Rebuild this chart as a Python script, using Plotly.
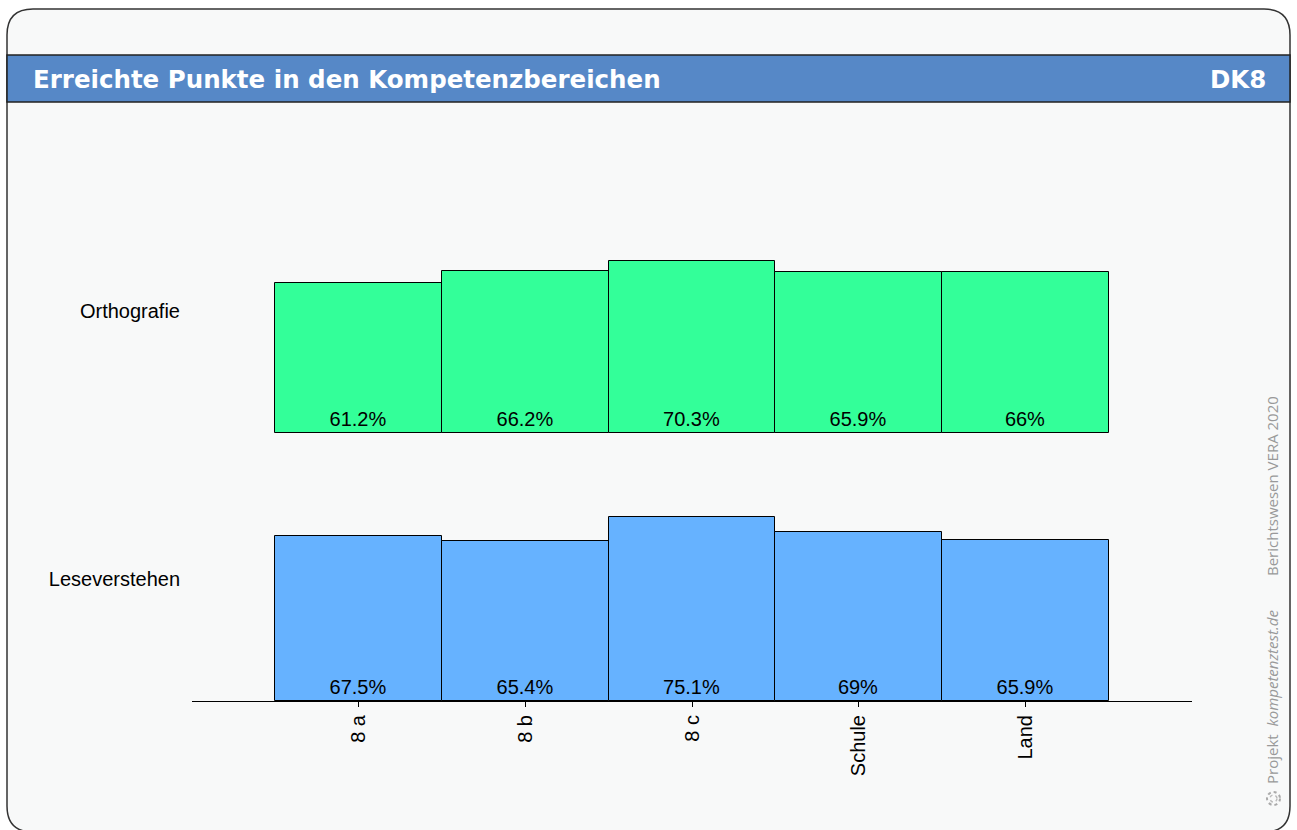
import plotly.graph_objects as go

# Data
klassen = ['8 a', '8 b', '8 c', 'Schule', 'Land']
bereiche = ['Leseverstehen', 'Orthografie']
leseverstehen = [67.5, 65.4, 75.1, 69, 65.9]
orthografie = [61.2, 66.2, 70.3, 65.9, 66]

W, H = 1297, 830
# plot area in pixels
L, R, T, B = 192, 1192, 120, 701
PX_PER_PCT = 2.447
ROW_GAP = 268 / PX_PER_PCT  # vertical distance between the two rows, in % units
Y_MAX = (B - T) / PX_PER_PCT


def px(x):
    return (x - L) / (R - L)


def py(y):
    return (B - y) / (B - T)


def fmt(v):
    return f"{v:g}%"


fig = go.Figure()

rows = [(leseverstehen, '#66b2ff', 0), (orthografie, '#33ff99', ROW_GAP)]
for vals, col, base in rows:
    fig.add_trace(go.Bar(
        x=klassen,
        y=vals,
        base=base,
        width=1,
        marker=dict(color=col, line=dict(color='black', width=1)),
        text=[fmt(v) for v in vals],
        textposition='inside',
        insidetextanchor='start',
        textangle=0,
        textfont=dict(family='Liberation Sans, Arial', size=20, color='black'),
        showlegend=False,
        hoverinfo='skip',
    ))

# card with rounded corners
r = 26
x0, x1, y0, y1 = 7, 1290, 9, 832
rx = r / (R - L)
ry = r / (B - T)
card = (f"M {px(x0)},{py(y0) - ry} Q {px(x0)},{py(y0)} {px(x0) + rx},{py(y0)} "
        f"L {px(x1) - rx},{py(y0)} Q {px(x1)},{py(y0)} {px(x1)},{py(y0) - ry} "
        f"L {px(x1)},{py(y1) + ry} Q {px(x1)},{py(y1)} {px(x1) - rx},{py(y1)} "
        f"L {px(x0) + rx},{py(y1)} Q {px(x0)},{py(y1)} {px(x0)},{py(y1) + ry} Z")

shapes = [
    dict(type='path', path=card, xref='paper', yref='paper',
         fillcolor='#f8f9f9', line=dict(color='#333333', width=1.5), layer='below'),
    dict(type='rect', xref='paper', yref='paper',
         x0=px(x0), x1=px(x1), y0=py(102), y1=py(55),
         fillcolor='#5688c7', line=dict(color='#222222', width=1.5), layer='below'),
    dict(type='circle', xref='paper', yref='paper',
         x0=px(1267), x1=px(1280), y0=py(805), y1=py(792),
         fillcolor='rgba(0,0,0,0)', line=dict(color='#aaaaaa', width=2, dash='dot'), layer='above'),
    dict(type='circle', xref='paper', yref='paper',
         x0=px(1270), x1=px(1277), y0=py(802), y1=py(795),
         fillcolor='rgba(0,0,0,0)', line=dict(color='#bbbbbb', width=1.5, dash='dot'), layer='above'),
]

annotations = [
    dict(text='<b>Erreichte Punkte in den Kompetenzbereichen</b>', xref='paper', yref='paper',
         x=px(31), y=py(80), xanchor='left', yanchor='middle', showarrow=False,
         font=dict(family='DejaVu Sans', size=24.5, color='white')),
    dict(text='<b>DK8</b>', xref='paper', yref='paper',
         x=px(1268), y=py(80), xanchor='right', yanchor='middle', showarrow=False,
         font=dict(family='DejaVu Sans', size=24.5, color='white')),
    dict(text='Projekt  <i>kompetenztest.de</i>', xref='paper', yref='paper',
         x=px(1272), y=py(786), xanchor='center', yanchor='bottom', textangle=-90,
         showarrow=False, font=dict(family='Open Sans', size=15, color='#999999')),
    dict(text='Berichtswesen VERA 2020', xref='paper', yref='paper',
         x=px(1272), y=py(394), xanchor='center', yanchor='top', textangle=-90,
         showarrow=False, font=dict(family='Open Sans', size=15, color='#999999')),
]

fig.update_layout(
    width=W, height=H,
    margin=dict(l=L, r=W - R, t=T, b=H - B, pad=0),
    paper_bgcolor='white',
    plot_bgcolor='rgba(0,0,0,0)',
    barmode='overlay',
    bargap=0,
    shapes=shapes,
    annotations=annotations,
    uniformtext=dict(minsize=20, mode='show'),
    xaxis=dict(
        range=[-1, 5],
        showgrid=False, zeroline=False,
        showline=True, linecolor='black', linewidth=1,
        ticks='outside', ticklen=5, tickcolor='black',
        tickangle=-90,
        tickfont=dict(family='Liberation Sans, Arial', size=20, color='black'),
    ),
    yaxis=dict(
        range=[0, Y_MAX],
        showgrid=False, zeroline=False, showline=False,
        tickvals=[50, ROW_GAP + 50],
        ticktext=bereiche,
        ticks='', ticklabelstandoff=11,
        tickfont=dict(family='Liberation Sans, Arial', size=20, color='black'),
    ),
    font=dict(family='Liberation Sans, Arial'),
)

# page body has a default 8px margin; drop it so the figure sits at the window origin
fig.write_html("out.html", config={'displayModeBar': False},
               post_script="document.body.style.margin='0';")
